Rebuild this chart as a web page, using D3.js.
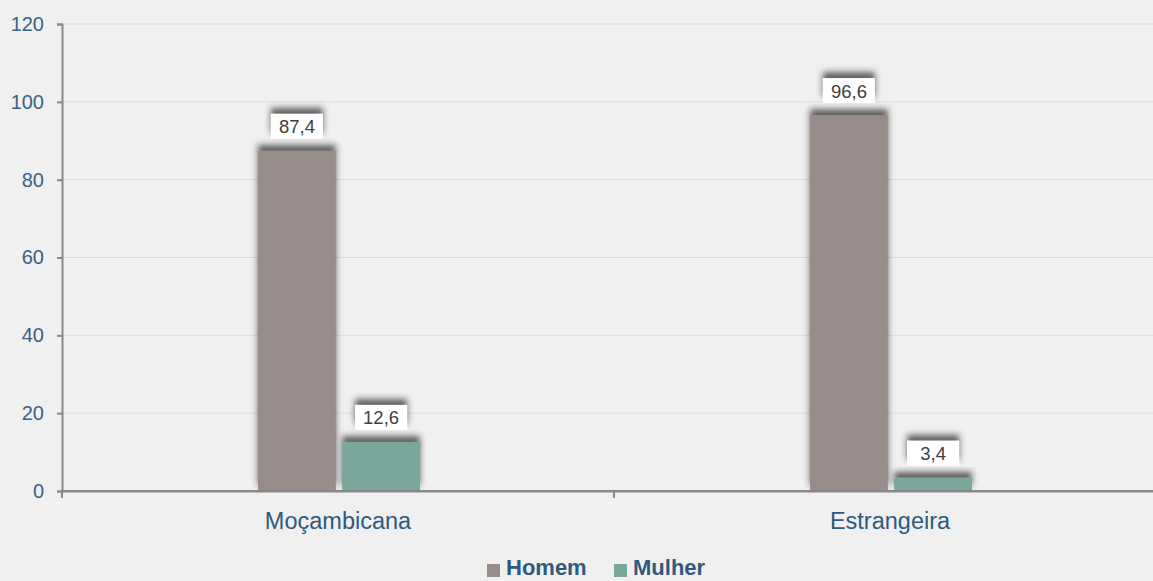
<!DOCTYPE html>
<html><head><meta charset="utf-8">
<script src="https://cdn.jsdelivr.net/npm/d3@7"></script>
<style>body{margin:0;background:#f0f0f0;}svg{display:block;font-family:"Liberation Sans",Arial,sans-serif;}</style>
</head><body><svg id="c" width="1153" height="581"></svg>
<script>
const categories = ["Moçambicana", "Estrangeira"];
const seriesNames = ["Homem", "Mulher"];
const homem = [87.4, 96.6];
const mulher = [12.6, 3.4];
const yTicks = [0, 20, 40, 60, 80, 100, 120];
const colors = ["#978c8a", "#79a79b"];

const svg = d3.select("#c");
const W = 1153, H = 581;
const m = {l: 62, t: 24, b: 90};
const x0 = d3.scaleBand().domain(categories).range([m.l, m.l + 1104]).padding(0);
const x1 = d3.scaleBand().domain(seriesNames).range([-80, 82]).paddingInner(0.075);
const y = d3.scaleLinear().domain([0, 120]).range([H - m.b, m.t]);

const defs = svg.append("defs");
const f = defs.append("filter").attr("id", "sh").attr("x", "-30%").attr("y", "-80%").attr("width", "160%").attr("height", "260%");
f.append("feDropShadow").attr("dx", 0).attr("dy", -6).attr("stdDeviation", 3.2).attr("flood-color", "#222").attr("flood-opacity", 0.7);

// grid
svg.append("g").selectAll("line").data(yTicks.filter(d => d > 0)).join("line")
  .attr("x1", m.l).attr("x2", W).attr("y1", d => y(d)).attr("y2", d => y(d))
  .attr("stroke", "#dcdcdc").attr("stroke-width", 1);

// y axis
const ya = svg.append("g").attr("transform", `translate(${m.l},0)`)
  .call(d3.axisLeft(y).tickValues(yTicks).tickSize(5).tickPadding(13));
ya.select(".domain").attr("stroke", "#888").attr("stroke-width", 2);
ya.selectAll(".tick line").attr("stroke", "#888").attr("stroke-width", 2);
ya.selectAll("text").attr("fill", "#3a6186").attr("font-size", 20).attr("font-family", "Liberation Sans, Arial, sans-serif");

// x axis
const xa = svg.append("g").attr("transform", `translate(0,${y(0)})`)
  .call(d3.axisBottom(x0).tickSize(0).tickPadding(21));
xa.select(".domain").attr("stroke", "#888").attr("stroke-width", 2);
xa.selectAll("text").attr("fill", "#2f5a7e").attr("font-size", 23.5).attr("font-family", "Liberation Sans, Arial, sans-serif");
svg.append("g").selectAll("line").data([m.l, x0(categories[1])]).join("line")
  .attr("x1", d => d).attr("x2", d => d).attr("y1", y(0)).attr("y2", y(0) + 7)
  .attr("stroke", "#888").attr("stroke-width", 2);

// bars
const data = [];
categories.forEach((c, i) => {
  data.push({c, s: seriesNames[0], v: homem[i]});
  data.push({c, s: seriesNames[1], v: mulher[i]});
});
const cx = d => x0(d.c) + x0.bandwidth() / 2 + x1(d.s);
svg.append("g").selectAll("rect").data(data).join("rect")
  .attr("x", d => cx(d)).attr("width", x1.bandwidth())
  .attr("y", d => y(d.v)).attr("height", d => y(0) - y(d.v))
  .attr("fill", d => colors[seriesNames.indexOf(d.s)])
  .attr("filter", "url(#sh)");

// redraw axis baseline over bars
svg.append("line").attr("x1", m.l).attr("x2", W).attr("y1", y(0)).attr("y2", y(0)).attr("stroke", "#888").attr("stroke-width", 2);

// labels
const lg = svg.append("g").selectAll("g").data(data).join("g")
  .attr("transform", d => `translate(${cx(d) + x1.bandwidth() / 2},${y(d.v) - 25})`);
lg.append("rect").attr("x", -26).attr("y", -12).attr("width", 52).attr("height", 25)
  .attr("fill", "#ffffff").attr("filter", "url(#sh)");
lg.append("text").attr("text-anchor", "middle").attr("dy", "0.35em").attr("y", 1)
  .attr("font-size", 18.5).attr("fill", "#404040")
  .text(d => d.v.toFixed(1).replace(".", ","));

// legend
const leg = svg.append("g").attr("transform", `translate(487,575)`);
const items = [{n: "Homem", x: 0}, {n: "Mulher", x: 127}];
items.forEach((it, i) => {
  leg.append("rect").attr("x", it.x).attr("y", -11).attr("width", 13).attr("height", 13).attr("fill", colors[i]);
  leg.append("text").attr("x", it.x + 19).attr("y", 0).attr("font-size", 22).attr("font-weight", "bold")
    .attr("fill", "#2f5a7e").text(it.n);
});
</script></body></html>
